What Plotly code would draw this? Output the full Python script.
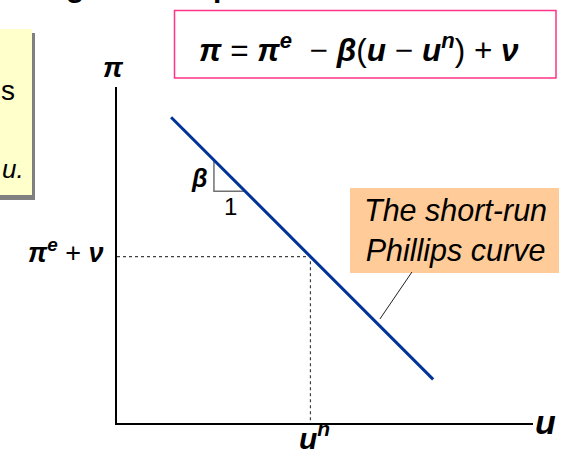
import plotly.graph_objects as go

W, H = 564, 449

# ---- data (economic units) ----
curve_u = [1.3, 7.6]          # short-run Phillips curve, unemployment
curve_pi = [7.35, 1.05]       # short-run Phillips curve, inflation
u_natural = 4.65              # u^n
pi_at_un = 4.0                # pi^e + nu
slope_u0 = 2.33               # where the beta triangle starts
slope_run = 0.75              # run of the triangle ("1")
leader_u = [6.32, 7.09]       # leader line from label to curve
leader_pi = [2.5, 3.63]

X_RANGE = [0, 10]
Y_RANGE = [0, 8.077]

def px(x):
    return x / W

def py(y):
    return 1 - y / H

# beta triangle from the curve
slope = (curve_pi[1] - curve_pi[0]) / (curve_u[1] - curve_u[0])
tri_top = curve_pi[0] + slope * (slope_u0 - curve_u[0])
tri_bot = tri_top + slope * slope_run

fig = go.Figure()

# dotted guide lines
fig.add_trace(go.Scatter(x=[X_RANGE[0], u_natural, u_natural], y=[pi_at_un, pi_at_un, Y_RANGE[0]],
                         mode="lines", line=dict(color="#404040", width=1.2, dash="dot"),
                         hoverinfo="skip", showlegend=False))
# beta triangle
fig.add_trace(go.Scatter(x=[slope_u0, slope_u0, slope_u0 + slope_run], y=[tri_top, tri_bot, tri_bot],
                         mode="lines", line=dict(color="#707070", width=1.5),
                         hoverinfo="skip", showlegend=False))
# leader line
fig.add_trace(go.Scatter(x=leader_u, y=leader_pi, mode="lines",
                         line=dict(color="#202020", width=1),
                         hoverinfo="skip", showlegend=False))
# the curve
fig.add_trace(go.Scatter(x=curve_u, y=curve_pi, mode="lines",
                         line=dict(color="#003399", width=3),
                         hoverinfo="skip", showlegend=False))

shapes = [
    # yellow note box (cut off) with shadow
    dict(type="rect", xref="paper", yref="paper", x0=px(-10), x1=px(35), y0=py(200), y1=py(33),
         fillcolor="#808080", line=dict(width=0), layer="below"),
    dict(type="rect", xref="paper", yref="paper", x0=px(-10), x1=px(32), y0=py(195), y1=py(29),
         fillcolor="#FFFFCC", line=dict(width=0), layer="below"),
    # equation box
    dict(type="rect", xref="paper", yref="paper", x0=px(174.5), x1=px(556), y0=py(78), y1=py(10.5),
         fillcolor="white", line=dict(color="#FF3388", width=1.5), layer="below"),
    # label box
    dict(type="rect", xref="paper", yref="paper", x0=px(350), x1=px(559), y0=py(273), y1=py(188),
         fillcolor="#FFCC99", line=dict(width=0), layer="below"),
]

BI = "Liberation Sans"
annotations = [
    dict(text="<b><i>π</i></b> = <b><i>π<sup>e</sup></i></b>  − <b><i>β</i></b>(<b><i>u</i></b> − <b><i>u<sup>n</sup></i></b>) + <b><i>ν</i></b>",
         x=px(359), y=py(48), font=dict(size=31.5, family=BI, color="black")),
    dict(text="<i>The short-run<br>Phillips curve</i>", x=px(455), y=py(230),
         font=dict(size=30.5, family=BI, color="black")),
    dict(text="<b><i>π</i></b>", x=px(114), y=py(67), font=dict(size=28, family=BI, color="black")),
    dict(text="<b><i>π<sup>e</sup></i></b> + <b><i>ν</i></b>", x=px(106), y=py(251), xanchor="right",
         font=dict(size=27, family=BI, color="black")),
    dict(text="<b><i>u<sup>n</sup></i></b>", x=px(315), y=py(436), font=dict(size=30, family=BI, color="black")),
    dict(text="<b><i>u</i></b>", x=px(545), y=py(422), font=dict(size=34, family=BI, color="black")),
    dict(text="<b><i>β</i></b>", x=px(199), y=py(178), font=dict(size=25, family=BI, color="black")),
    dict(text="1", x=px(230), y=py(206), font=dict(size=24, family=BI, color="black")),
    # cut-off fragments
    dict(text="s", x=px(17), y=py(90), xanchor="right", font=dict(size=28, family=BI, color="black")),
    dict(text="<i>u.</i>", x=px(26), y=py(169), xanchor="right", font=dict(size=26, family=BI, color="black")),
    dict(text="<b>g</b>", x=px(75), y=py(-14), font=dict(size=30, family=BI, color="black")),
    dict(text="<b>p</b>", x=px(222), y=py(-14), font=dict(size=30, family=BI, color="black")),
]
for a in annotations:
    a.setdefault("xref", "paper")
    a.setdefault("yref", "paper")
    a.setdefault("showarrow", False)
    a.setdefault("xanchor", "center")
    a.setdefault("yanchor", "middle")

fig.update_layout(
    width=W, height=H,
    margin=dict(l=0, r=0, t=0, b=0),
    paper_bgcolor="white", plot_bgcolor="rgba(0,0,0,0)",
    shapes=shapes, annotations=annotations,
    xaxis=dict(domain=[px(117), px(533)], range=X_RANGE, showline=True, linecolor="black", linewidth=2,
               showgrid=False, zeroline=False, ticks="", showticklabels=False, fixedrange=True),
    yaxis=dict(domain=[py(423), py(87)], range=Y_RANGE, showline=True, linecolor="black", linewidth=1.5,
               showgrid=False, zeroline=False, ticks="", showticklabels=False, fixedrange=True),
)

fig.write_html("out.html", config={"displayModeBar": False},
               post_script="document.body.style.margin='0';document.body.style.overflow='hidden';")
